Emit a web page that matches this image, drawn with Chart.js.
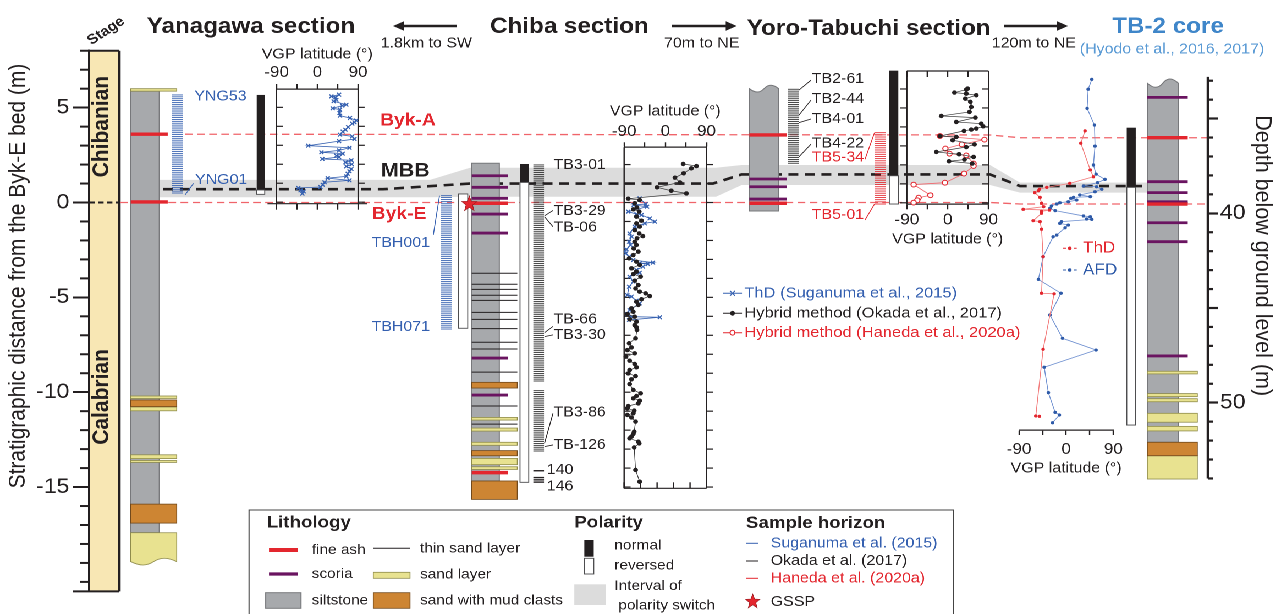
<!DOCTYPE html>
<html>
<head>
<meta charset="utf-8">
<title>Matuyama–Brunhes boundary sections around Chiba</title>
<script src="https://cdn.jsdelivr.net/npm/chart.js@4.4.1/dist/chart.umd.min.js"></script>
<style>
  html, body { margin: 0; padding: 0; background: #fff; overflow: hidden; }
  #fig { position: absolute; left: 0; top: 0; width: 1160px; height: 614px; transform: scaleX(1.1); transform-origin: 0 0; }
  #fig canvas { position: absolute; }
</style>
</head>
<body>
<div id="fig"></div>
<script>
const FONT = '"Liberation Sans", Arial, Helvetica, sans-serif';
const SX = 1.1;            // horizontal stretch applied to the whole figure
const DPR = 2;
const FIG_W = 1276, FIG_H = 614;

const INK = '#231f20', RED = '#e3262e', RED_DASH = '#f0646a', BLUE = '#3560b0';
const PURPLE = '#6a1460', SILT = '#a7a9ac', SILT_EDGE = '#77787b';
const SAND = '#e8e290', SAND_EDGE = '#8f8c4c', MUD = '#cd8533', MUD_EDGE = '#71491c';
const STAGE_FILL = '#f8e7b4', BAND = '#dcdcdc', CORE_BLUE = '#3f86c9', CORE_BLUE2 = '#5b9bd5';

// ---------- axes ----------
const strataRange = [-20.5, 8];            // m from the Byk-E bed
const strataTicks = [-15, -10, -5, 0, 5];
const depthRange = [32.8, 54];             // TB-2 core depth (m)
const depthTicks = [35, 40, 45, 50];
const vgpTicks = [-90, -45, 0, 45, 90];
const vgpBaseTicksChiba = [-90, -54, -18, 18, 54, 90];

// ---------- stages ----------
const stageNames = ['Chibanian', 'Calabrian'];
const stageTop = [8, 0];
const stageBase = [0, -20.5];

// ---------- marker horizons ----------
const bykALevels = [3.60, 3.56];           // Yanagawa, Yoro-Tabuchi
const bykELevels = [0, 0];
const coreBykA = 36.01, coreBykE = 39.51;  // TB-2 depth
const mbbLevels = [0.70, 1.00, 1.48];      // Yanagawa, Chiba, Yoro-Tabuchi
const coreMbb = 38.56;
const switchTop = [1.19, 1.83, 1.98];
const switchBase = [0.28, 0.30, 0.92];
const coreSwitch = [38.38, 38.91];

// ---------- lithology: Yanagawa ----------
const ynSilt = [5.87, -17.41];
const ynAsh = [3.60, 0.03];
const ynSand = [[6.00, 5.87], [-10.20, -10.33], [-10.78, -10.98], [-13.30, -13.50], [-13.60, -13.70]];
const ynMud = [[-10.41, -10.76], [-15.90, -16.90]];
const ynBaseSand = [-17.41, -18.93];

// ---------- lithology: Chiba ----------
const chSilt = [2.07, -14.68];
const chAsh = [-0.04, -14.24];
const chScoria = [1.41, 0.80, 0.22, -0.61, -1.61, -8.20, -10.15];
const chThinSand = [-3.73, -4.31, -4.58, -4.89, -5.16, -5.79, -6.16, -6.65, -7.37, -7.72, -8.94, -10.73, -11.68];
const chSand = [[-11.33, -11.47], [-11.89, -12.05], [-12.64, -12.80], [-13.49, -13.82], [-13.93, -14.07]];
const chMud = [[-9.48, -9.78], [-13.08, -13.35], [-14.68, -15.65]];

// ---------- lithology: Yoro-Tabuchi ----------
const yoSilt = [6.00, -0.45];
const yoAsh = [3.56, -0.04];
const yoScoria = [1.24, 0.83, 0.18];

// ---------- lithology: TB-2 core (depth m) ----------
const coreSilt = [33.13, 52.09];
const coreAsh = [36.01, 39.51];
const coreScoria = [33.88, 38.33, 38.91, 39.39, 40.50, 41.50, 47.53];
const coreSand = [[48.34, 48.48], [49.52, 49.68], [49.79, 49.95], [50.56, 51.03], [51.25, 51.49], [52.80, 54.03]];
const coreMud = [[52.09, 52.80]];

// ---------- polarity [top, base, normal?] ----------
const ynPolarity = [[5.67, 0.66, 1], [0.66, 0.43, 0]];
const tbhPolarity = [[0.45, -6.63, 0]];
const chPolarity = [[2.03, 1.06, 1], [1.06, -14.75, 0]];
const yoPolarity = [[6.95, 1.41, 1], [1.41, -0.08, 0]];
const corePolarity = [[35.48, 38.63, 1], [38.63, 51.18, 0]];

// ---------- sampled intervals [top, base, number of horizons] ----------
const yngSamples = [5.67, 0.50, 53];
const tbhSamples = [0.36, -6.67, 71];
const chSamplesUpper = [1.98, -9.41, 115];
const chSamplesLower = [-9.92, -13.10, 33];
const chSamplesBase = [-14.14, -14.50, -14.62, -14.74];
const yoOkadaSamples = [5.97, 2.07, 40];
const yoHanedaSamples = [3.68, -0.08, 34];

// ---------- VGP latitude: Yanagawa (ThD, Suganuma et al., 2015) ----------
const ynThdLevel = [5.67,5.58,5.53,5.40,5.32,5.14,5.09,4.95,4.88,4.70,4.56,4.44,4.31,4.21,4.14,3.96,3.82,3.72,3.56,3.47,3.33,3.22,2.98,2.87,2.73,2.63,2.56,2.45,2.38,2.28,2.21,2.10,2.00,1.89,1.75,1.63,1.50,1.36,1.27,1.15,1.05,0.92,0.80,0.75,0.62,0.57,0.45];
const ynThdLat = [48,31,40,42,36,64,55,34,50,49,50,72,86,82,77,68,62,56,50,77,82,48,-20,71,48,9,56,42,48,11,75,62,76,64,75,71,67,64,23,71,16,12,7,-42,-37,-30,-33];

// ---------- VGP latitude: Chiba ----------
const chOkadaLevel = [2.03,1.92,1.80,1.54,1.31,1.06,0.80,0.62,0.48,0.20,0.13,-0.04,-0.26,-0.36,-0.48,-0.75,-0.96,-1.10,-1.27,-1.45,-1.63,-1.77,-1.89,-2.07,-2.24,-2.42,-2.59,-2.77,-2.94,-3.12,-3.29,-3.47,-3.65,-3.77,-3.91,-4.12,-4.35,-4.53,-4.70,-4.79,-4.93,-5.10,-5.23,-5.40,-5.58,-5.76,-5.88,-6.02,-6.16,-6.28,-6.46,-6.58,-6.72,-7.16,-7.42,-7.64,-7.78,-7.95,-8.13,-8.34,-8.51,-8.69,-8.83,-9.01,-9.15,-9.32,-9.57,-9.88,-10.06,-10.20,-10.32,-10.45,-10.59,-10.73,-10.85,-10.97,-11.11,-11.20,-11.33,-11.55,-12.08,-12.20,-12.34,-12.43,-12.61,-12.70,-12.91,-14.10,-14.72];
const chOkadaLat = [39,68,57,40,21,32,-18,13,46,-81,-56,-67,-62,-70,-57,-63,-52,-63,-56,-67,-57,-49,-62,-67,-63,-69,-59,-70,-79,-63,-56,-74,-63,-70,-54,-67,-59,-65,-56,-43,-34,-52,-63,-59,-74,-70,-83,-67,-78,-63,-67,-63,-62,-65,-79,-74,-83,-67,-86,-78,-67,-63,-78,-81,-65,-74,-78,-70,-54,-63,-70,-56,-59,-81,-83,-68,-70,-83,-74,-65,-68,-70,-74,-78,-59,-57,-68,-65,-56];
const chThdLevel = [0.22,-0.08,-0.13,-0.22,-0.48,-0.61,-0.66,-0.84,-1.01,-1.10,-1.27,-1.63,-1.80,-2.07,-2.24,-2.47,-2.68,-2.86,-3.03,-3.17,-3.21,-3.24,-3.38,-3.56,-3.70,-3.91,-4.17,-4.44,-4.88,-4.96,-5.18,-5.32,-5.67,-5.88,-6.02,-6.05,-6.19];
const chThdLat = [-56,-43,-69,-40,-81,-63,-52,-34,-23,-45,-67,-78,-74,-79,-76,-85,-86,-79,-70,-27,-56,-38,-49,-63,-56,-78,-70,-79,-83,-74,-63,-56,-78,-83,-74,-12,-79];

// ---------- VGP latitude: Yoro-Tabuchi ----------
const yoOkadaLevel = [6.02,5.97,5.81,5.75,5.67,5.49,5.32,5.05,4.79,4.58,4.49,4.26,4.17,4.03,3.91,3.86,3.79,3.52,3.47,3.30,3.08,2.94,2.68,2.56,2.42,2.28,2.19,2.07];
const yoOkadaLat = [44,41,15,41,63,39,50,52,48,-14,61,19,74,78,63,52,36,-17,19,11,59,41,-25,25,57,37,3,54];
const yoHanedaLevel = [3.52,3.33,3.08,2.86,2.59,2.50,2.07,1.94,1.54,1.06,0.96,0.40,0.27,0.13,0.01];
const yoHanedaLat = [-17,81,31,-5,4,41,57,57,36,-6,-75,-38,-64,-67,-75];

// ---------- VGP latitude: TB-2 core (depth m) ----------
const coreAfdDepth = [32.93,33.45,34.46,35.34,36.45,37.45,37.93,38.21,38.38,38.56,38.60,38.73,38.86,39.03,39.12,39.16,39.21,39.30,39.39,39.44,39.51,39.61,39.74,39.86,40.14,40.18,40.30,40.32,40.44,40.53,40.62,40.76,41.15,41.24,42.29,43.49,44.22,45.37,46.60,47.22,48.13,49.47,50.51,50.65,51.06];
const coreAfdLat = [49,42,40,54,55,52,57,74,60,33,58,68,55,26,46,14,9,20,4,-12,-18,-28,-31,-21,33,46,39,49,-9,-12,4,-2,-18,-25,-44,-53,-10,-31,-7,57,-42,-34,-21,-13,-26];
const coreThdDepth = [35.65,36.30,37.71,38.07,38.42,38.63,38.73,38.81,38.91,39.16,39.47,39.65,39.79,39.83,39.90,40.00,40.39,40.44,40.84,42.29,44.22,44.25,47.18,50.70,50.72];
const coreThdLat = [36,28,46,52,7,-37,-51,-53,-60,-50,-47,-43,-82,-32,-47,-47,-63,-50,-47,-44,-47,-23,-44,-58,-51];

// ---------- layout (figure pixels) ----------
const AX_LEFT = 89.3, AX_RIGHT = 1208;
const PAD_TOP = 50.74, PAD_BOTTOM = 22.61;
const DEPTH40_Y = 213.3, DEPTH_PX_PER_M = 18.94;
const STAGE_X = [89.3, 119.3];
const COL = {
  yn: { x0: 130.7, silt: 159.3, line: 167.7, sand: 176.7 },
  ch: { x0: 471.7, silt: 499.3, line: 507.7, sand: 517.3 },
  yo: { x0: 749.3, silt: 778.7, line: 786.7, sand: 786.7, wave: 4.5 },
  tb: { x0: 1147.3, silt: 1178.3, line: 1187.7, sand: 1197.3, wave: 5.5 }
};
const BAND_X = [[159.3, 430], [470, 716], [741.7, 990], [1020, 1147.3]];
const MBB_X = [[163.3, 383], [470, 713], [741.7, 990], [1020, 1147.3]];
const HEAD = 22;           // section header size

// ---------- drawing helpers ----------
function seg(ctx, x1, y1, x2, y2, color, w, dash) {
  ctx.save();
  ctx.strokeStyle = color; ctx.lineWidth = w; ctx.setLineDash(dash || []);
  ctx.beginPath(); ctx.moveTo(x1, y1); ctx.lineTo(x2, y2); ctx.stroke();
  ctx.restore();
}
function poly(ctx, pts, color, w, dash) {
  ctx.save();
  ctx.strokeStyle = color; ctx.lineWidth = w; ctx.setLineDash(dash || []);
  ctx.beginPath(); pts.forEach(([x, y], i) => i ? ctx.lineTo(x, y) : ctx.moveTo(x, y)); ctx.stroke();
  ctx.restore();
}
function txt(ctx, s, x, y, o = {}) {
  ctx.save();
  ctx.font = `${o.bold ? 'bold ' : ''}${o.size || 14.5}px ${FONT}`;
  ctx.fillStyle = o.color || INK;
  ctx.textAlign = o.align || 'left';
  ctx.textBaseline = 'middle';
  if (o.rot) { ctx.translate(x, y); ctx.rotate(o.rot); ctx.fillText(s, 0, 0); }
  else ctx.fillText(s, x, y);
  ctx.restore();
}
function wave(ctx, xa, xb, y, amp) {
  const w = xb - xa;
  ctx.bezierCurveTo(xa + 0.2 * w, y + amp, xa + 0.35 * w, y + amp, xa + 0.5 * w, y);
  ctx.bezierCurveTo(xa + 0.65 * w, y - amp, xa + 0.8 * w, y - amp, xb, y);
}
function bed(ctx, xa, xb, ya, yb, fill, edge) {
  ctx.save();
  ctx.fillStyle = fill; ctx.strokeStyle = edge; ctx.lineWidth = 0.8;
  const y = Math.min(ya, yb), h = Math.max(Math.abs(yb - ya), 1.5);
  ctx.fillRect(xa, y, xb - xa, h); ctx.strokeRect(xa, y, xb - xa, h);
  ctx.restore();
}
function star(ctx, cx, cy, R, r) {
  ctx.save();
  ctx.beginPath();
  for (let i = 0; i < 10; i++) {
    const a = -Math.PI / 2 + i * Math.PI / 5, rr = i % 2 ? r : R;
    ctx.lineTo(cx + rr * Math.cos(a) / SX, cy + rr * Math.sin(a));
  }
  ctx.closePath();
  ctx.fillStyle = RED; ctx.fill();
  ctx.strokeStyle = '#9b1b20'; ctx.lineWidth = 0.6; ctx.stroke();
  ctx.restore();
}
function arrow(ctx, xFrom, xTo, y) {
  const dir = Math.sign(xTo - xFrom), head = 11 / SX;
  seg(ctx, xFrom, y, xTo - dir * head * 0.8, y, INK, 2.4);
  ctx.save(); ctx.fillStyle = INK; ctx.beginPath();
  ctx.moveTo(xTo, y); ctx.lineTo(xTo - dir * head, y - 4.8); ctx.lineTo(xTo - dir * head, y + 4.8);
  ctx.closePath(); ctx.fill(); ctx.restore();
}

function drawColumn(ctx, X, V, lith, L) {
  const x0 = X(L.x0), xs = X(L.silt), xl = X(L.line), xd = X(L.sand);
  const t = V(lith.silt[0]), b = V(lith.silt[1]);
  ctx.save();
  ctx.fillStyle = SILT; ctx.strokeStyle = SILT_EDGE; ctx.lineWidth = 1;
  ctx.beginPath();
  ctx.moveTo(x0, b); ctx.lineTo(x0, t);
  if (L.wave) wave(ctx, x0, xs, t, L.wave); else ctx.lineTo(xs, t);
  ctx.lineTo(xs, b); ctx.closePath(); ctx.fill(); ctx.stroke();
  ctx.restore();
  (lith.sand || []).forEach(([a, z]) => bed(ctx, x0, xd, V(a), V(z), SAND, SAND_EDGE));
  (lith.mud || []).forEach(([a, z]) => bed(ctx, x0, xd, V(a), V(z), MUD, MUD_EDGE));
  if (lith.baseSand) {
    const ya = V(lith.baseSand[0]), yb = V(lith.baseSand[1]);
    ctx.save();
    ctx.fillStyle = SAND; ctx.strokeStyle = SAND_EDGE; ctx.lineWidth = 0.8;
    ctx.beginPath(); ctx.moveTo(xd, ya); ctx.lineTo(x0, ya); ctx.lineTo(x0, yb);
    wave(ctx, x0, xd, yb, 4.5); ctx.closePath(); ctx.fill(); ctx.stroke();
    ctx.restore();
  }
  (lith.thin || []).forEach(v => seg(ctx, x0, V(v), xd, V(v), INK, 1));
  (lith.scoria || []).forEach(v => seg(ctx, x0, V(v), xl, V(v), PURPLE, 2.8));
  (lith.ash || []).forEach(v => seg(ctx, x0, V(v), xl, V(v), RED, 3.4));
}
function drawPolarity(ctx, X, V, xa, xb, pol) {
  pol.forEach(([a, z, normal]) => {
    const y1 = Math.min(V(a), V(z)), h = Math.abs(V(z) - V(a));
    ctx.save();
    if (normal) { ctx.fillStyle = INK; ctx.fillRect(X(xa), y1, X(xb) - X(xa), h); }
    else {
      ctx.fillStyle = '#fff'; ctx.strokeStyle = '#4d4d4f'; ctx.lineWidth = 0.9;
      ctx.fillRect(X(xa), y1, X(xb) - X(xa), h); ctx.strokeRect(X(xa), y1, X(xb) - X(xa), h);
    }
    ctx.restore();
  });
}
function drawSamples(ctx, X, V, xa, xb, run, color) {
  const [a, z, n] = run;
  for (let i = 0; i < n; i++) {
    const v = a + (z - a) * i / (n - 1);
    seg(ctx, X(xa), V(v), X(xb), V(v), color, 0.85);
  }
}

function geo(chart) {
  const xs = chart.scales.x, ys = chart.scales.y, yd = chart.scales.yd;
  return { X: fx => xs.getPixelForValue(fx), Y: v => ys.getPixelForValue(v), D: d => yd.getPixelForValue(d) };
}

// ---------- the composite section drawing ----------
const sectionPlugin = {
  id: 'sections',
  beforeDraw(chart) {
    const { ctx } = chart, { X, Y } = geo(chart);
    ctx.save();
    ctx.fillStyle = STAGE_FILL;
    const t = Y(stageTop[0]), b = Y(stageBase[stageBase.length - 1]);
    ctx.fillRect(X(STAGE_X[0]), t, X(STAGE_X[1]) - X(STAGE_X[0]), b - t);
    ctx.restore();
  },
  afterDraw(chart) {
    const { ctx } = chart, { X, Y, D } = geo(chart);
    ctx.save();
    ctx.lineCap = 'butt';

    // stage column
    const sTop = Y(stageTop[0]), sBot = Y(stageBase[stageBase.length - 1]);
    seg(ctx, X(STAGE_X[1]), sTop, X(STAGE_X[1]), sBot, INK, 2.4);
    seg(ctx, X(80), sTop, X(STAGE_X[1]), sTop, INK, 2);
    seg(ctx, X(72.7), sBot, X(STAGE_X[1]), sBot, INK, 2);
    seg(ctx, X(STAGE_X[0]), Y(stageBase[0]), X(STAGE_X[1]), Y(stageBase[0]), INK, 2, [5, 3]);
    stageNames.forEach((n, i) => txt(ctx, n, X(102.2), Y((stageTop[i] + stageBase[i]) / 2),
      { size: 21, bold: true, rot: -Math.PI / 2, align: 'center' }));
    txt(ctx, 'Stage', X(106), 31, { size: 14, bold: true, rot: -0.62, align: 'center' });

    // interval of polarity switch
    const topPts = [], botPts = [];
    switchTop.forEach((v, i) => {
      topPts.push([X(BAND_X[i][0]), Y(v)], [X(BAND_X[i][1]), Y(v)]);
      botPts.push([X(BAND_X[i][0]), Y(switchBase[i])], [X(BAND_X[i][1]), Y(switchBase[i])]);
    });
    topPts.push([X(BAND_X[3][0]), D(coreSwitch[0])], [X(BAND_X[3][1]), D(coreSwitch[0])]);
    botPts.push([X(BAND_X[3][0]), D(coreSwitch[1])], [X(BAND_X[3][1]), D(coreSwitch[1])]);
    ctx.save();
    ctx.fillStyle = BAND; ctx.beginPath();
    topPts.concat(botPts.reverse()).forEach(([x, y], i) => i ? ctx.lineTo(x, y) : ctx.moveTo(x, y));
    ctx.closePath(); ctx.fill(); ctx.restore();

    // Byk-A and Byk-E correlation lines
    poly(ctx, [[X(185), Y(bykALevels[0])], [X(990), Y(bykALevels[1])], [X(1020), D(coreBykA)], [X(AX_RIGHT), D(coreBykA)]], RED_DASH, 1.3, [7, 4]);
    poly(ctx, [[X(120), Y(bykELevels[0])], [X(990), Y(bykELevels[1])], [X(1020), D(coreBykE)], [X(AX_RIGHT), D(coreBykE)]], RED_DASH, 1.3, [7, 4]);

    // MBB
    const mbbPts = [];
    mbbLevels.forEach((v, i) => mbbPts.push([X(MBB_X[i][0]), Y(v)], [X(MBB_X[i][1]), Y(v)]));
    mbbPts.push([X(MBB_X[3][0]), D(coreMbb)], [X(MBB_X[3][1]), D(coreMbb)]);
    poly(ctx, mbbPts, INK, 2.6, [9, 6]);

    // lithologic columns
    drawColumn(ctx, X, Y, { silt: ynSilt, ash: ynAsh, sand: ynSand, mud: ynMud, baseSand: ynBaseSand }, COL.yn);
    drawColumn(ctx, X, Y, { silt: chSilt, ash: chAsh, scoria: chScoria, thin: chThinSand, sand: chSand, mud: chMud }, COL.ch);
    drawColumn(ctx, X, Y, { silt: yoSilt, ash: yoAsh, scoria: yoScoria }, COL.yo);
    drawColumn(ctx, X, D, { silt: coreSilt, ash: coreAsh, scoria: coreScoria, sand: coreSand, mud: coreMud }, COL.tb);

    // sample horizons
    drawSamples(ctx, X, Y, 172, 182.7, yngSamples, BLUE);
    drawSamples(ctx, X, Y, 440.7, 451.7, tbhSamples, BLUE);
    drawSamples(ctx, X, Y, 533.3, 544, chSamplesUpper, '#2a2a2a');
    drawSamples(ctx, X, Y, 533.3, 544, chSamplesLower, '#2a2a2a');
    chSamplesBase.forEach(v => seg(ctx, X(533.3), Y(v), X(544), Y(v), INK, 1.4));
    drawSamples(ctx, X, Y, 787.7, 798.7, yoOkadaSamples, '#2a2a2a');
    drawSamples(ctx, X, Y, 875, 885.7, yoHanedaSamples, RED);

    // polarity columns
    drawPolarity(ctx, X, Y, 256.7, 264.7, ynPolarity);
    drawPolarity(ctx, X, Y, 458.3, 467.7, tbhPolarity);
    drawPolarity(ctx, X, Y, 520, 528.7, chPolarity);
    drawPolarity(ctx, X, Y, 889.3, 898.3, yoPolarity);
    drawPolarity(ctx, X, D, 1126.7, 1135.7, corePolarity);

    // GSSP
    star(ctx, X(469.3), Y(-0.08), 8, 3.4);

    // sample labels
    const lab = { size: 14.5 };
    txt(ctx, 'YNG53', X(194.3), Y(5.58), { ...lab, color: BLUE });
    txt(ctx, 'YNG01', X(195), Y(1.18), { ...lab, color: BLUE });
    seg(ctx, X(185), Y(0.40), X(193.5), Y(1.01), BLUE, 0.8);
    txt(ctx, 'TBH001', X(430), Y(-2.14), { ...lab, color: BLUE, align: 'right' });
    txt(ctx, 'TBH071', X(430), Y(-6.56), { ...lab, color: BLUE, align: 'right' });
    seg(ctx, X(433.3), Y(-1.71), X(439.5), Y(0.36), BLUE, 0.8);

    [['TB3-01', 1.98], ['TB3-29', -0.45], ['TB-06', -1.33], ['TB-66', -6.16], ['TB3-30', -6.98], ['TB3-86', -11.06], ['TB-126', -12.78]]
      .forEach(([s, v]) => txt(ctx, s, X(553.5), Y(v), lab));
    txt(ctx, '140', X(546.7), Y(-14.10), lab);
    txt(ctx, '146', X(546.7), Y(-14.98), lab);
    [[-0.70, -0.42], [-0.75, -1.28], [-6.86, -6.53], [-7.07, -6.98], [-12.69, -11.11], [-12.87, -12.78]]
      .forEach(([a, b]) => seg(ctx, X(544.5), Y(a), X(553), Y(b), INK, 0.8));

    [['TB2-61', 6.51], ['TB2-44', 5.46], ['TB4-01', 4.40], ['TB4-22', 3.12]]
      .forEach(([s, v]) => txt(ctx, s, X(811.7), Y(v), lab));
    txt(ctx, 'TB5-34', X(811.7), Y(2.38), { ...lab, color: RED });
    txt(ctx, 'TB5-01', X(811.7), Y(-0.66), { ...lab, color: RED });
    [[5.93, 6.45], [4.61, 5.40], [4.21, 4.40], [2.41, 3.08]]
      .forEach(([a, b]) => seg(ctx, X(799), Y(a), X(811), Y(b), INK, 0.8));
    seg(ctx, X(874.5), Y(3.68), X(865), Y(2.28), RED, 0.8);
    seg(ctx, X(874.5), Y(-0.08), X(865), Y(-0.92), RED, 0.8);

    // marker bed names
    txt(ctx, 'Byk-A', X(408), Y(3.65) - 12.5, { size: 17.5, bold: true, color: RED, align: 'center' });
    txt(ctx, 'Byk-E', X(399), Y(-0.62), { size: 17.5, bold: true, color: RED, align: 'center' });
    txt(ctx, 'MBB', X(405.3), Y(1.65), { size: 19.5, bold: true, align: 'center' });

    // section headers
    txt(ctx, 'Yanagawa section', X(146.7), 27, { size: HEAD, bold: true });
    arrow(ctx, X(456.7), X(393), 26);
    txt(ctx, '1.8km to SW', X(380.7), 43.5, { size: 14.5 });
    txt(ctx, 'Chiba section', X(490), 27, { size: HEAD, bold: true });
    arrow(ctx, X(671.7), X(736.7), 26);
    txt(ctx, '70m to NE', X(664), 43.5, { size: 14.5 });
    txt(ctx, 'Yoro-Tabuchi section', X(746.7), 29, { size: HEAD, bold: true });
    arrow(ctx, X(1004), X(1068), 26);
    txt(ctx, '120m to NE', X(991.7), 43.5, { size: 14.5 });
    txt(ctx, 'TB-2 core', X(1168), 27, { size: HEAD, bold: true, color: CORE_BLUE, align: 'center' });
    txt(ctx, '(Hyodo et al., 2016, 2017)', X(1172), 49.5, { size: 14.5, color: CORE_BLUE2, align: 'center' });

    // VGP method key
    const keyRows = [
      ['ThD (Suganuma et al., 2015)', BLUE, 'x', 293.3],
      ['Hybrid method (Okada et al., 2017)', INK, 'dot', 313.3],
      ['Hybrid method (Haneda et al., 2020a)', RED, 'ring', 332.7]
    ];
    keyRows.forEach(([s, c, m, y]) => {
      seg(ctx, X(723), y, X(742), y, c, 1);
      const cx = X(732.5);
      ctx.save(); ctx.strokeStyle = c; ctx.fillStyle = c; ctx.lineWidth = 1;
      if (m === 'x') { ctx.beginPath(); ctx.moveTo(cx - 2.5 / SX, y - 2.5); ctx.lineTo(cx + 2.5 / SX, y + 2.5); ctx.moveTo(cx - 2.5 / SX, y + 2.5); ctx.lineTo(cx + 2.5 / SX, y - 2.5); ctx.stroke(); }
      else if (m === 'dot') { ctx.beginPath(); ctx.ellipse(cx, y, 2.4 / SX, 2.4, 0, 0, Math.PI * 2); ctx.fill(); }
      else { ctx.fillStyle = '#fff'; ctx.beginPath(); ctx.ellipse(cx, y, 2.4 / SX, 2.4, 0, 0, Math.PI * 2); ctx.fill(); ctx.stroke(); }
      ctx.restore();
      txt(ctx, s, X(744.3), y, { size: 15, color: c });
    });

    // TB-2 demagnetisation key
    [['ThD', RED, 248.3], ['AFD', '#2e5aa8', 270]].forEach(([s, c, y]) => {
      seg(ctx, X(1062.7), y, X(1076.7), y, c, 1, [3, 2]);
      ctx.save(); ctx.fillStyle = c; ctx.beginPath(); ctx.ellipse(X(1069.7), y, 1.8 / SX, 1.8, 0, 0, Math.PI * 2); ctx.fill(); ctx.restore();
      txt(ctx, s, X(1083), y, { size: 15.5, color: c });
    });

    // lithology / polarity / sample key
    ctx.save(); ctx.strokeStyle = '#444'; ctx.lineWidth = 1;
    ctx.strokeRect(X(249), 510, X(953.3) - X(249), 120); ctx.restore();
    const k = { size: 14 };
    txt(ctx, 'Lithology', X(266.7), 522.7, { size: 17, bold: true });
    seg(ctx, X(269), 550, X(297.7), 550, RED, 4);
    txt(ctx, 'fine ash', X(311.7), 550, k);
    seg(ctx, X(373.3), 548.3, X(410), 548.3, INK, 1);
    txt(ctx, 'thin sand layer', X(420), 548.5, k);
    seg(ctx, X(269), 574, X(297.7), 574, PURPLE, 3.2);
    txt(ctx, 'scoria', X(311.7), 574, k);
    bed(ctx, X(373.3), X(410), 572.3, 578.3, SAND, SAND_EDGE);
    txt(ctx, 'sand layer', X(420), 574.5, k);
    ctx.save(); ctx.fillStyle = SILT; ctx.strokeStyle = SILT_EDGE; ctx.lineWidth = 1;
    ctx.fillRect(X(265.7), 592.7, X(301) - X(265.7), 15.6); ctx.strokeRect(X(265.7), 592.7, X(301) - X(265.7), 15.6); ctx.restore();
    txt(ctx, 'siltstone', X(311.7), 600.5, k);
    bed(ctx, X(373.3), X(410), 592.7, 608.3, MUD, MUD_EDGE);
    txt(ctx, 'sand with mud clasts', X(420), 600.5, k);

    txt(ctx, 'Polarity', X(574.3), 522.7, { size: 17, bold: true });
    ctx.save(); ctx.fillStyle = INK; ctx.fillRect(X(584.3), 540, X(593.7) - X(584.3), 16.7);
    ctx.fillStyle = '#fff'; ctx.strokeStyle = '#4d4d4f'; ctx.lineWidth = 0.9;
    ctx.fillRect(X(584.3), 558.3, X(593.7) - X(584.3), 15.7); ctx.strokeRect(X(584.3), 558.3, X(593.7) - X(584.3), 15.7);
    ctx.fillStyle = BAND; ctx.fillRect(X(574.3), 584.3, X(606) - X(574.3), 20.7); ctx.restore();
    txt(ctx, 'normal', X(614.3), 545.5, k);
    txt(ctx, 'reversed', X(614.3), 565.5, k);
    txt(ctx, 'Interval of', X(614.3), 586, k);
    txt(ctx, 'polarity switch', X(618.3), 605.5, k);

    txt(ctx, 'Sample horizon', X(746), 523.3, { size: 17, bold: true });
    [['Suganuma et al. (2015)', BLUE, 543.3], ['Okada et al. (2017)', INK, 561], ['Haneda et al. (2020a)', RED, 578.3]]
      .forEach(([s, c, y]) => { seg(ctx, X(746), y, X(758.3), y, c, 1); txt(ctx, s, X(770.7), y, { ...k, size: 14.5, color: c }); });
    star(ctx, X(752.7), 601.7, 7.5, 3.2);
    txt(ctx, 'GSSP', X(770.7), 602, { ...k, size: 14.5 });

    // axis details: minor ticks, core depth axis line, axis titles
    for (let v = Math.ceil(strataRange[0]); v < strataRange[1]; v++) {
      if (strataTicks.includes(v)) continue;
      seg(ctx, X(80), Y(v), X(AX_LEFT), Y(v), INK, 2);
    }
    seg(ctx, X(AX_RIGHT), D(depthRange[0]), X(AX_RIGHT), D(depthRange[1]), INK, 2.6);
    for (let d = Math.ceil(depthRange[0]); d <= depthRange[1]; d++) {
      if (depthTicks.includes(d)) continue;
      seg(ctx, X(AX_RIGHT), D(d), X(AX_RIGHT + 5), D(d), INK, 2.2);
    }
    txt(ctx, 'Stratigraphic distance from the Byk-E bed (m)', X(18.3), 276, { size: 21, rot: -Math.PI / 2, align: 'center' });
    txt(ctx, 'Depth below ground level (m)', X(1262), 255.7, { size: 21.5, rot: Math.PI / 2, align: 'center' });
    ctx.restore();
  }
};

// ---------- canvases ----------
const figEl = document.getElementById('fig');
function addCanvas(leftCss, topCss, w, h) {
  const c = document.createElement('canvas');
  c.width = w; c.height = h;
  c.style.left = leftCss + 'px'; c.style.top = topCss + 'px';
  figEl.appendChild(c);
  return c;
}

const mainCanvas = addCanvas(0, 0, Math.round(FIG_W / SX), FIG_H);
const ydMin = 40 + (PAD_TOP - DEPTH40_Y) / DEPTH_PX_PER_M;
const ydMax = 40 + (FIG_H - PAD_BOTTOM - DEPTH40_Y) / DEPTH_PX_PER_M;

const mainChart = new Chart(mainCanvas, {
  type: 'scatter',
  data: { datasets: [] },
  options: {
    responsive: false, animation: false, devicePixelRatio: DPR, events: [],
    layout: { padding: { left: 0, right: 0, top: PAD_TOP, bottom: PAD_BOTTOM } },
    plugins: { legend: { display: false }, tooltip: { enabled: false } },
    scales: {
      x: { type: 'linear', display: false, min: AX_LEFT, max: AX_RIGHT },
      y: {
        type: 'linear', position: 'left', min: strataRange[0], max: strataRange[1],
        afterBuildTicks: s => { s.ticks = strataTicks.map(v => ({ value: v })); },
        afterFit: s => { s.width = AX_LEFT / SX; },
        ticks: { autoSkip: false, color: INK, padding: 3, font: { family: FONT, size: 21 } },
        grid: { drawOnChartArea: false, drawTicks: true, tickLength: 16.6 / SX, tickWidth: 2, tickColor: INK, color: INK },
        border: { display: true, color: INK, width: 2 }
      },
      yd: {
        type: 'linear', position: 'right', reverse: true, min: ydMin, max: ydMax,
        afterBuildTicks: s => { s.ticks = depthTicks.map(v => ({ value: v })); },
        afterFit: s => { s.width = (FIG_W - AX_RIGHT) / SX; },
        ticks: { autoSkip: false, color: INK, padding: 2, font: { family: FONT, size: 21 },
                 callback: v => (v % 10 === 0 ? String(v) : '') },
        grid: { drawOnChartArea: false, drawTicks: true, tickLength: 9.7 / SX, tickWidth: 2.2, tickColor: INK, color: INK },
        border: { display: false }
      }
    }
  },
  plugins: [sectionPlugin]
});

// ---------- VGP latitude panels ----------
const pairs = (levels, lats) => levels.map((v, i) => ({ x: lats[i], y: v }));
const styleThd = data => ({ data, showLine: true, borderColor: BLUE, borderWidth: 0.8, pointStyle: 'crossRot',
  pointRadius: 2.6, pointBorderColor: BLUE, pointBorderWidth: 1.1, clip: false });
const styleOkada = data => ({ data, showLine: true, borderColor: '#3a3a3a', borderWidth: 0.7, pointStyle: 'circle',
  pointRadius: 2.2, pointBackgroundColor: INK, pointBorderColor: INK, pointBorderWidth: 0, clip: false });
const styleHaneda = data => ({ data, showLine: true, borderColor: RED_DASH, borderWidth: 0.8, pointStyle: 'circle',
  pointRadius: 2.4, pointBackgroundColor: '#fff', pointBorderColor: RED, pointBorderWidth: 1, clip: false });
const styleCore = (data, c, line) => ({ data, showLine: true, borderColor: line, borderWidth: 0.8, pointStyle: 'circle',
  pointRadius: 1.6, pointBackgroundColor: c, pointBorderColor: c, pointBorderWidth: 0, clip: false });

// frame, side ticks and axis title of a VGP panel
function panelDecor(spec, titleY) {
  return {
    id: 'panelDecor',
    beforeDatasetsDraw(chart) {
      const { ctx, chartArea: a, scales: { x, y } } = chart;
      txt(ctx, 'VGP latitude (°)', (a.left + a.right) / 2, titleY, { size: 14.5, align: 'center' });
      if (!spec) return;
      const th = 6.5 / SX, tv = 6;
      const yTicks = [];
      for (let v = Math.ceil(y.min); v <= y.max; v++) yTicks.push(v);
      ctx.save();
      const L = (x1, y1, x2, y2) => seg(ctx, x1, y1, x2, y2, INK, 1.2);
      if (spec.left) { L(a.left, a.top, a.left, a.bottom); yTicks.forEach(v => { const p = y.getPixelForValue(v); L(a.left, p, a.left + (spec.left === 'in' ? th : -th), p); }); }
      if (spec.right) { L(a.right, a.top, a.right, a.bottom); yTicks.forEach(v => { const p = y.getPixelForValue(v); L(a.right, p, a.right + (spec.right === 'out' ? th : -th), p); }); }
      if (spec.top) {
        L(a.left - spec.top.ext / SX, a.top, a.right + spec.top.ext / SX, a.top);
        spec.top.ticks.forEach(t => { const p = x.getPixelForValue(t); L(p, a.top, p, a.top + (spec.top.dir === 'in' ? tv : -tv)); });
      }
      if (spec.bottom) {
        L(a.left - spec.bottom.ext / SX, a.bottom, a.right + spec.bottom.ext / SX, a.bottom);
        spec.bottom.ticks.forEach(t => { const p = x.getPixelForValue(t); L(p, a.bottom, p, a.bottom + (spec.bottom.dir === 'in' ? -tv : tv)); });
      }
      ctx.restore();
    }
  };
}

function vgpPanel(p) {
  const padX = 40, gap = 14;
  const plotW = (p.box.r - p.box.l) / SX;
  const wCss = Math.ceil(plotW + 2 * padX / SX);
  const padL = padX / SX, padR = wCss - padL - plotW;
  const boxH = p.box.b - p.box.t;
  let topCss, hCss, pad;
  if (p.axis === 'top') {
    topCss = p.box.t - p.axisH; hCss = Math.ceil(p.axisH + boxH + gap);
    pad = { left: padL, right: padR, top: 0, bottom: hCss - p.axisH - boxH };
  } else {
    topCss = p.box.t - gap; hCss = Math.ceil(gap + boxH + p.axisH);
    pad = { left: padL, right: padR, top: gap, bottom: hCss - gap - boxH - p.axisH };
  }
  const vA = p.scale.getValueForPixel(p.box.t), vB = p.scale.getValueForPixel(p.box.b);
  const cv = addCanvas((p.box.l - padX) / SX, topCss, wCss, hCss);
  return new Chart(cv, {
    type: 'scatter',
    data: { datasets: p.datasets },
    options: {
      responsive: false, animation: false, devicePixelRatio: DPR, events: [],
      layout: { padding: pad },
      plugins: { legend: { display: false }, tooltip: { enabled: false } },
      elements: { line: { tension: 0 } },
      scales: {
        x: {
          type: 'linear', position: p.axis, min: -90, max: 90,
          afterBuildTicks: s => { s.ticks = vgpTicks.map(v => ({ value: v })); },
          afterFit: s => { s.height = p.axisH; },
          ticks: { autoSkip: false, maxRotation: 0, padding: p.labelPad, color: INK, font: { family: FONT, size: 15.5 },
                   callback: v => (v % 90 === 0 ? String(v) : '') },
          grid: { display: true, drawOnChartArea: false, drawTicks: true, tickLength: 5, color: INK, tickColor: INK, tickWidth: 1.2 },
          border: { display: true, color: INK, width: 1.2 }
        },
        y: { type: 'linear', display: false, min: Math.min(vA, vB), max: Math.max(vA, vB), reverse: !!p.reverse }
      }
    },
    plugins: [panelDecor(p.frame, p.titleY - topCss)]
  });
}

const ysMain = mainChart.scales.y, ydMain = mainChart.scales.yd;
vgpPanel({
  box: { l: 276.7, r: 358.3, t: 89.3, b: 204 }, axis: 'top', axisH: 43, labelPad: 2.2, scale: ysMain, titleY: 55,
  frame: { left: 'in', right: 'out', bottom: { dir: 'out', ticks: vgpTicks, ext: 9 } },
  datasets: [styleThd(pairs(ynThdLevel, ynThdLat))]
});
vgpPanel({
  box: { l: 624.3, r: 706.7, t: 147.3, b: 488.3 }, axis: 'top', axisH: 44.3, labelPad: 1.2, scale: ysMain, titleY: 111.7,
  frame: { left: 'in', right: 'out', bottom: { dir: 'in', ticks: vgpBaseTicksChiba, ext: 0 } },
  datasets: [styleOkada(pairs(chOkadaLevel, chOkadaLat)), styleThd(pairs(chThdLevel, chThdLat))]
});
vgpPanel({
  box: { l: 907.3, r: 989, t: 70.7, b: 204 }, axis: 'bottom', axisH: 43.7, labelPad: 1.6, scale: ysMain, titleY: 239,
  frame: { left: 'out', right: 'in', top: { dir: 'in', ticks: vgpTicks, ext: 0 } },
  datasets: [styleOkada(pairs(yoOkadaLevel, yoOkadaLat)), styleHaneda(pairs(yoHanedaLevel, yoHanedaLat))]
});
vgpPanel({
  box: { l: 1019, r: 1113.3, t: 77, b: 430 }, axis: 'bottom', axisH: 47, labelPad: 5.5, scale: ydMain, reverse: true, titleY: 468.3,
  frame: null,
  datasets: [styleCore(pairs(coreThdDepth, coreThdLat), RED, '#f27c7c'), styleCore(pairs(coreAfdDepth, coreAfdLat), '#2e5aa8', '#6f90d0')]
});
</script>
</body>
</html>
